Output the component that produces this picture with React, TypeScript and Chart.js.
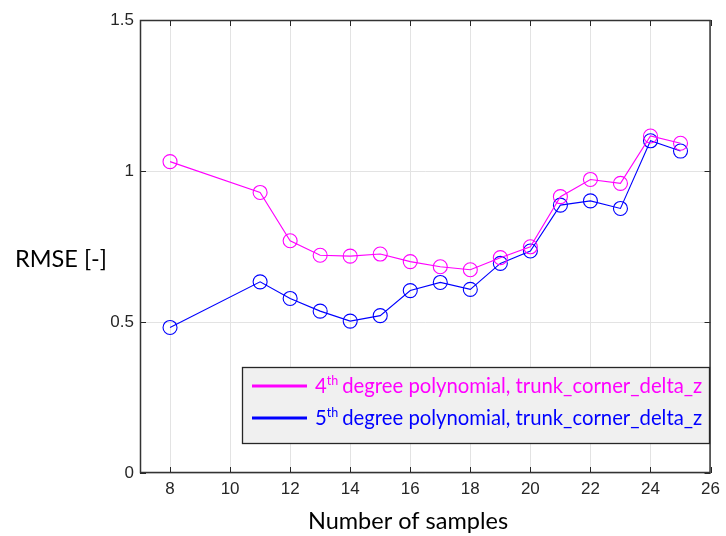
import React, { useEffect, useRef } from "react";
import { Chart, registerables } from "chart.js";

Chart.register(...registerables);

const samples = [8, 11, 12, 13, 14, 15, 16, 17, 18, 19, 20, 21, 22, 23, 24, 25];
const poly4 = [1.031, 0.929, 0.769, 0.721, 0.718, 0.725, 0.700, 0.683, 0.673, 0.713, 0.749, 0.915, 0.972, 0.959, 1.116, 1.092];
const poly5 = [0.482, 0.633, 0.578, 0.536, 0.503, 0.521, 0.604, 0.631, 0.608, 0.694, 0.735, 0.887, 0.901, 0.876, 1.100, 1.066];
const xTicks = [8, 10, 12, 14, 16, 18, 20, 22, 24, 26];
const yTicks = [0, 0.5, 1, 1.5];
const seriesNames = ["degree polynomial, trunk_corner_delta_z", "degree polynomial, trunk_corner_delta_z"];
const seriesOrders = ["4", "5"];
const seriesColors = ["#ff00ff", "#0000ff"];

const TITLE_FONT = "Lato, 'Open Sans', sans-serif";
const TICK_FONT = "'Liberation Sans', Arial, sans-serif";

const overlay = {
  id: "overlay",
  afterDraw(chart: any) {
    const { ctx, chartArea, scales } = chart;
    const { left, right, top, bottom } = chartArea;
    const xs = scales.x;
    const ys = scales.y;
    ctx.save();
    // inward ticks
    ctx.strokeStyle = "#262626";
    ctx.lineWidth = 1;
    ctx.beginPath();
    xTicks.forEach((v) => {
      const px = Math.round(xs.getPixelForValue(v)) + 0.5;
      ctx.moveTo(px, bottom);
      ctx.lineTo(px, bottom - 6);
      ctx.moveTo(px, top);
      ctx.lineTo(px, top + 6);
    });
    yTicks.forEach((v) => {
      const py = Math.round(ys.getPixelForValue(v)) + 0.5;
      ctx.moveTo(left, py);
      ctx.lineTo(left + 6, py);
      ctx.moveTo(right, py);
      ctx.lineTo(right - 6, py);
    });
    ctx.stroke();
    // box
    ctx.strokeStyle = "#333333";
    ctx.lineWidth = 1.5;
    ctx.strokeRect(left + 0.5, top + 0.5, right - left - 1, bottom - top - 1);

    // axis titles
    ctx.fillStyle = "#000000";
    ctx.font = `23.5px ${TITLE_FONT}`;
    ctx.textAlign = "left";
    ctx.textBaseline = "alphabetic";
    ctx.fillText("RMSE [-]", 15, 267);
    ctx.textAlign = "center";
    ctx.fillText("Number of samples", 408, 529);

    // legend
    const lx = 242, ly = 367, lw = 467, lh = 76;
    ctx.fillStyle = "#f0f0f0";
    ctx.fillRect(lx, ly, lw, lh);
    ctx.strokeStyle = "#262626";
    ctx.lineWidth = 1.3;
    ctx.strokeRect(lx + 0.5, ly + 0.5, lw, lh);
    const rows = [386, 418];
    rows.forEach((ry, i) => {
      ctx.strokeStyle = seriesColors[i];
      ctx.lineWidth = 3;
      ctx.beginPath();
      ctx.moveTo(252, ry);
      ctx.lineTo(307, ry);
      ctx.stroke();
      ctx.fillStyle = seriesColors[i];
      ctx.textAlign = "left";
      ctx.textBaseline = "alphabetic";
      let tx = 315;
      const base = ry + 7;
      ctx.font = `20.3px ${TITLE_FONT}`;
      ctx.fillText(seriesOrders[i], tx, base);
      tx += ctx.measureText(seriesOrders[i]).width;
      ctx.font = `12.5px ${TITLE_FONT}`;
      ctx.fillText("th", tx, base - 8);
      tx += ctx.measureText("th").width + 4;
      ctx.font = `20.3px ${TITLE_FONT}`;
      ctx.fillText(seriesNames[i], tx, base);
    });
    ctx.restore();
  },
};

export default function App() {
  const ref = useRef<HTMLCanvasElement>(null);
  useEffect(() => {
    if (!ref.current) return;
    const mk = (vals: number[]) => samples.map((s, i) => ({ x: s, y: vals[i] }));
    const chart = new Chart(ref.current, {
      type: "scatter",
      data: {
        datasets: [poly4, poly5].map((vals, i) => ({
          label: seriesOrders[i] + "th " + seriesNames[i],
          data: mk(vals),
          showLine: true,
          borderColor: seriesColors[i],
          borderWidth: 1.1,
          pointStyle: "circle",
          pointRadius: 7,
          pointBorderWidth: 1.1,
          pointBackgroundColor: "rgba(0,0,0,0)",
          pointBorderColor: seriesColors[i],
          tension: 0,
        })),
      },
      options: {
        animation: false,
        responsive: false,
        maintainAspectRatio: false,
        layout: { padding: { top: 20, right: 14, left: 0, bottom: 0 } },
        plugins: { legend: { display: false }, tooltip: { enabled: false } },
        scales: {
          x: {
            type: "linear",
            min: 7,
            max: 26,
            afterBuildTicks: (s: any) => {
              s.ticks = xTicks.map((v) => ({ value: v }));
            },
            afterFit: (s: any) => {
              s.height = 63;
            },
            grid: { color: "#e3e3e3", drawTicks: false, lineWidth: 1 },
            border: { display: false },
            ticks: {
              padding: 6,
              color: "#262626",
              font: { family: TICK_FONT, size: 17 },
              maxRotation: 0,
              autoSkip: false,
            },
          },
          y: {
            type: "linear",
            min: 0,
            max: 1.5,
            afterBuildTicks: (s: any) => {
              s.ticks = yTicks.map((v) => ({ value: v }));
            },
            afterFit: (s: any) => {
              s.width = 140;
            },
            grid: { color: "#e3e3e3", drawTicks: false, lineWidth: 1 },
            border: { display: false },
            ticks: {
              padding: 6,
              color: "#262626",
              font: { family: TICK_FONT, size: 17 },
              callback: (v: any) => String(v),
            },
          },
        },
      },
      plugins: [overlay],
    });
    return () => chart.destroy();
  }, []);
  return (
    <div style={{ position: "fixed", left: 0, top: 0, width: 726, height: 536, background: "#fff" }}>
      <canvas ref={ref} width={726} height={536} style={{ width: 726, height: 536 }} />
    </div>
  );
}
